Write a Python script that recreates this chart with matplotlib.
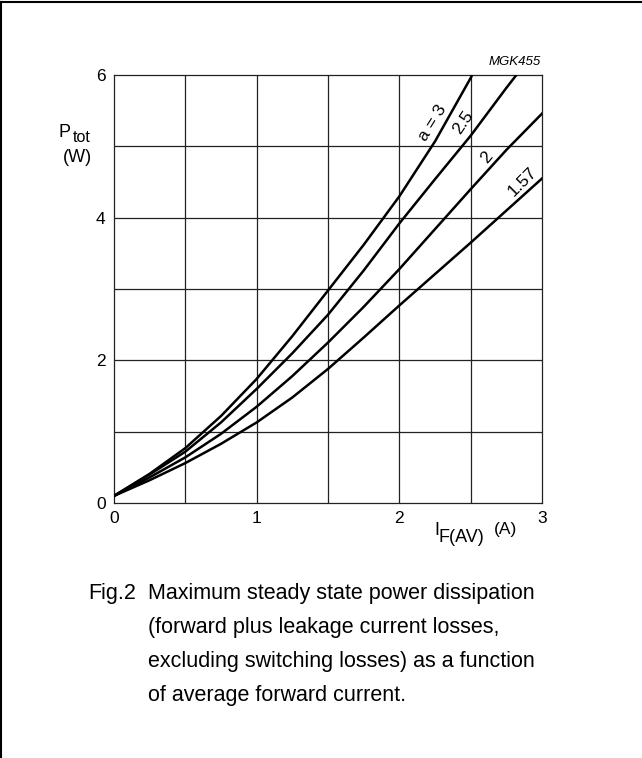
import numpy as np
import matplotlib
matplotlib.use('Agg')
import matplotlib.pyplot as plt
from matplotlib.lines import Line2D

plt.rcParams['font.family'] = ['Liberation Sans', 'DejaVu Sans']

# average forward current I_F(AV) (A) and power P_tot (W)
x_a3 = [0, 0.25, 0.5, 0.75, 1.0, 1.25, 1.5, 1.75, 2.0, 2.25, 2.5, 2.51]
p_a3 = [0.1, 0.41, 0.77, 1.22, 1.74, 2.34, 2.98, 3.62, 4.30, 5.07, 5.96, 6.0]

x_a25 = [0, 0.25, 0.5, 0.75, 1.0, 1.25, 1.5, 1.75, 2.0, 2.25, 2.5, 2.75, 2.82]
p_a25 = [0.1, 0.40, 0.72, 1.13, 1.60, 2.10, 2.64, 3.26, 3.92, 4.54, 5.15, 5.82, 6.0]

x_a2 = [0, 0.25, 0.5, 0.75, 1.0, 1.25, 1.5, 1.75, 2.0, 2.25, 2.5, 2.75, 3.0]
p_a2 = [0.1, 0.36, 0.64, 0.97, 1.35, 1.78, 2.25, 2.75, 3.28, 3.84, 4.40, 4.95, 5.46]

x_a157 = [0, 0.25, 0.5, 0.75, 1.0, 1.25, 1.5, 1.75, 2.0, 2.25, 2.5, 2.75, 3.0]
p_a157 = [0.1, 0.32, 0.56, 0.83, 1.13, 1.48, 1.88, 2.32, 2.77, 3.21, 3.65, 4.10, 4.55]

curve_labels = ['a = 3', '2.5', '2', '1.57']
label_pos = [(2.235, 5.33), (2.45, 5.33), (2.61, 4.84), (2.86, 4.51)]
label_rot = [58, 56, 50, 45]

x_ticks = [0, 1, 2, 3]
y_ticks = [0, 2, 4, 6]

fig = plt.figure(figsize=(6.42, 7.58), dpi=100)
ax = fig.add_axes([0.1776, 0.3364, 0.6667, 0.5646])

# grid every 0.5 A and 1 W
for gx in np.arange(0.5, 3.0, 0.5):
    ax.axvline(gx, color='#222222', lw=0.9, zorder=1)
for gy in np.arange(1, 6, 1):
    ax.axhline(gy, color='#222222', lw=0.9, zorder=1)

for xs, ps in [(x_a3, p_a3), (x_a25, p_a25), (x_a2, p_a2), (x_a157, p_a157)]:
    ax.plot(xs, ps, color='black', lw=1.8, zorder=3, solid_joinstyle='round')

for txt, (tx, ty), rot in zip(curve_labels, label_pos, label_rot):
    ax.text(tx, ty, txt, fontsize=12.5, rotation=rot, ha='center', va='center',
            rotation_mode='anchor', zorder=4)

ax.set_xlim(0, 3)
ax.set_ylim(0, 6)
ax.set_xticks(x_ticks)
ax.set_yticks(y_ticks)
ax.set_xticklabels([str(v) for v in x_ticks], fontsize=12.5)
ax.set_yticklabels([str(v) for v in y_ticks], fontsize=12.5)
ax.tick_params(length=0, pad=6)
for s in ax.spines.values():
    s.set_color('#222222')
    s.set_linewidth(0.9)


def ftext(px, py, s, **kw):
    # place text by pixel position measured from the top left corner
    fig.text(px / 642, 1 - py / 758, s, **kw)


# axis titles, subscripts drawn as separate texts
ftext(58, 137, 'P', fontsize=13, ha='left', va='baseline')
ftext(72.5, 142, 'tot', fontsize=11.5, ha='left', va='baseline')
ftext(77, 158, '(W)', fontsize=13, ha='center', va='center')
ftext(434, 535, 'I', fontsize=13, ha='left', va='baseline')
ftext(439, 542, 'F(AV)', fontsize=13, ha='left', va='baseline')
ftext(494, 534, '(A)', fontsize=12.5, ha='left', va='baseline')
ftext(541, 62, 'MGK455', fontsize=9.5, style='italic', ha='right', va='center')

# caption
ftext(88, 593, 'Fig.2', fontsize=15.5, ha='left', va='center')
caption = ['Maximum steady state power dissipation',
           '(forward plus leakage current losses,',
           'excluding switching losses) as a function',
           'of average forward current.']
for i, line in enumerate(caption):
    ftext(148, 593 + 34 * i, line, fontsize=15.5, ha='left', va='center')

# frame round the figure (top and left edges)
fig.add_artist(Line2D([0.0015, 1], [0.9975, 0.9975], transform=fig.transFigure, color='black', lw=1.5))
fig.add_artist(Line2D([0.0015, 0.0015], [0, 0.9975], transform=fig.transFigure, color='black', lw=1.5))

fig.savefig('out.png', dpi=100)
